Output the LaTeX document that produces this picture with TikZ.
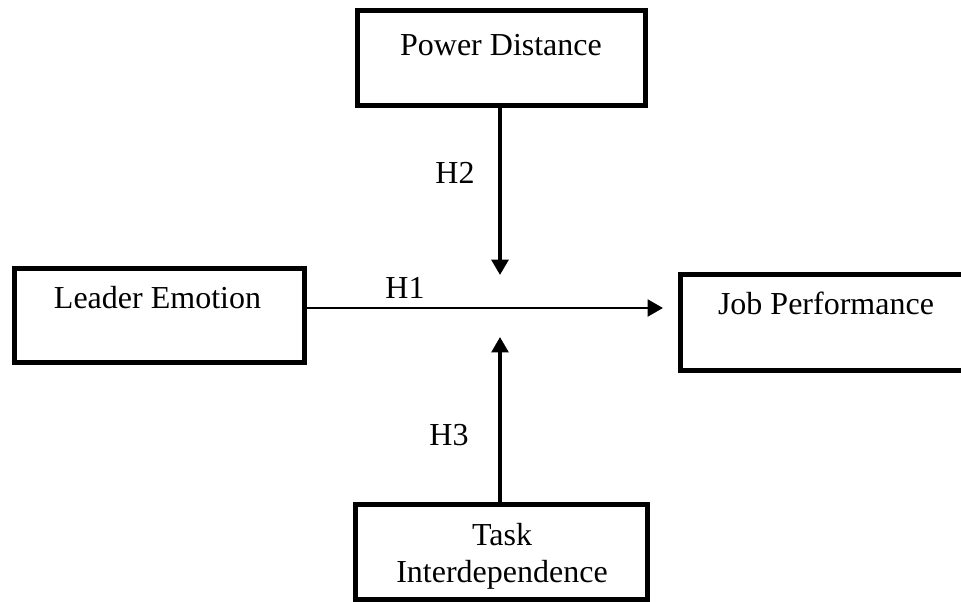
\documentclass[tikz,border=0pt]{standalone}
\usepackage{fontspec}
\setmainfont{Liberation Serif}
\usetikzlibrary{arrows.meta}
\definecolor{pagebg}{HTML}{FFFFFF}
\definecolor{textfg}{HTML}{000000}
\definecolor{edge}{HTML}{000000}

\begin{document}
\begin{tikzpicture}[
  x=0.75pt,
  y=-0.75pt,
  font=\fontsize{24}{27.75}\selectfont,
  varbox/.style={draw=edge, line width=3.75pt, inner sep=0pt},
  vartext/.style={text=textfg, anchor=base, inner sep=0pt, align=center},
  link/.style={draw=edge, line width=2.2pt, -{Triangle[length=11.5pt, width=12.5pt]}}
]
  \useasboundingbox (0,0) rectangle (961,601);
  \fill[pagebg] (0,0) rectangle (961,601);
  \clip (0,0) rectangle (961,601);

  % variables
  \node[varbox, minimum width=216pt, minimum height=71.25pt] (pd) at (501,58) {};
  \node[varbox, minimum width=217.5pt, minimum height=70.5pt] (le) at (159.5,315.5) {};
  \node[varbox, minimum width=221.25pt, minimum height=72pt] (jp) at (827.5,322.5) {};
  \node[varbox, minimum width=219pt, minimum height=71.25pt] (ti) at (501.5,552) {};

  \node[vartext] (pdtext) at (501,55) {Power Distance};
  \node[vartext] (letext) at (157.5,308) {Leader Emotion};
  \node[vartext] (jptext) at (826,314) {Job Performance};
  \node[vartext] (titext) at (502,582) {Task\\Interdependence};

  % hypotheses
  \coordinate (h1tip) at (663,308);
  \coordinate (h2tip) at (500,275);
  \coordinate (h3tip) at (500,337);
  \draw[link] (le.east |- h1tip) -- (h1tip);
  \draw[link, line width=2.8pt] (pd.south -| h2tip) -- (h2tip);
  \draw[link, line width=2.5pt] (ti.north -| h3tip) -- (h3tip);

  \node[vartext] (h1) at (405,298) {H1};
  \node[vartext] (h2) at (455,183) {H2};
  \node[vartext] (h3) at (449,445) {H3};
\end{tikzpicture}
\end{document}
